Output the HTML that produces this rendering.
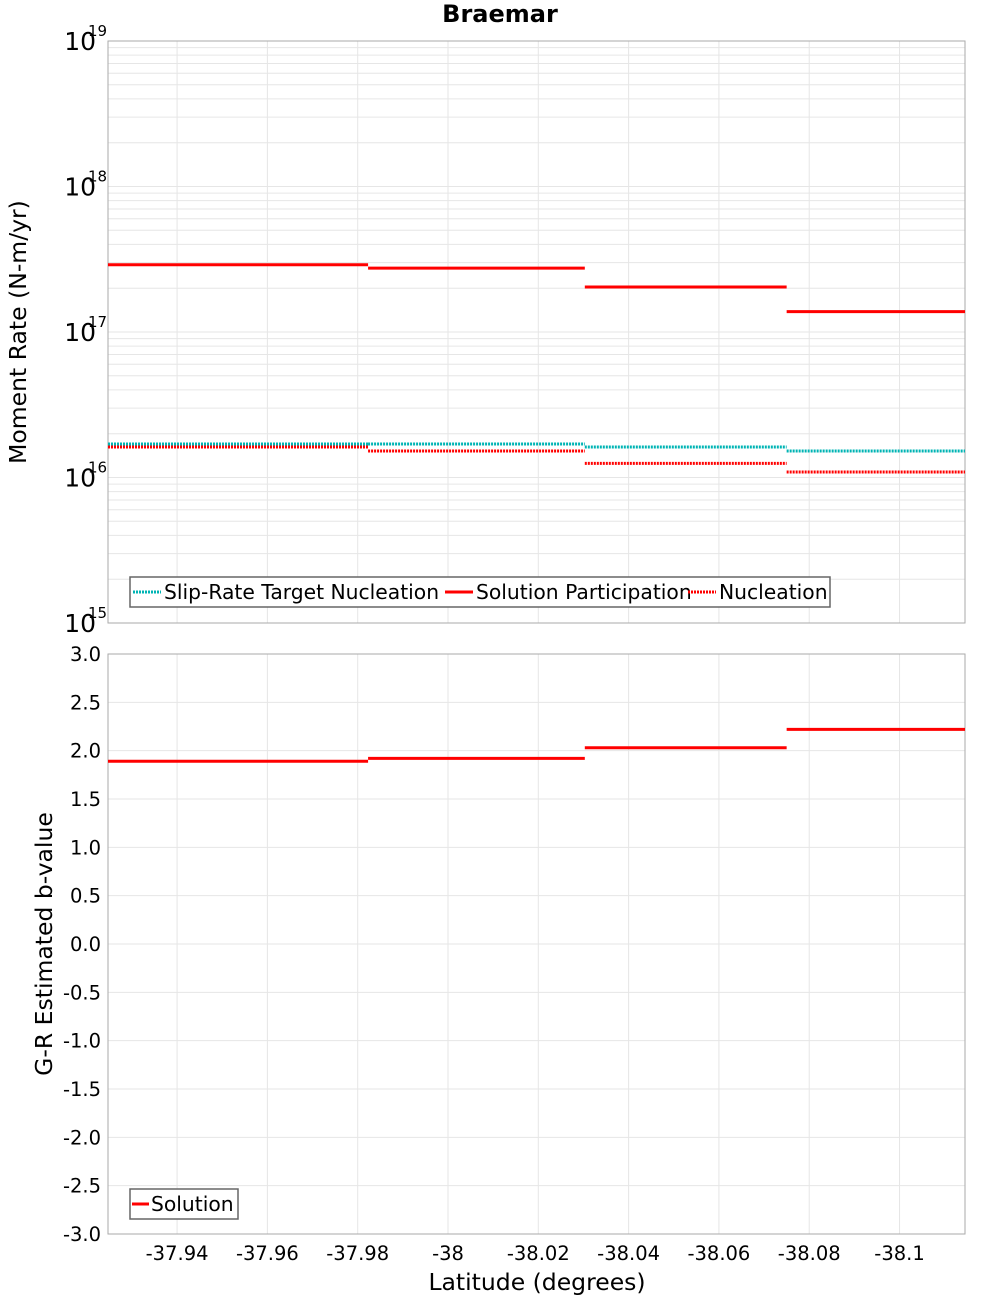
<!DOCTYPE html>
<html><head><meta charset="utf-8"><title>Braemar</title>
<style>body{margin:0;background:#fff}svg{display:block;font-family:"DejaVu Sans","Liberation Sans",sans-serif}</style>
</head><body>
<svg id="chart" width="1000" height="1300" xmlns="http://www.w3.org/2000/svg"></svg>
<script>
const boundaries = [-37.9247, -37.9823, -38.0303, -38.075, -38.1145];
const slipRateTarget = [1.70e16, 1.70e16, 1.62e16, 1.52e16];
const solutionParticipation = [2.90e17, 2.75e17, 2.04e17, 1.38e17];
const nucleation = [1.62e16, 1.52e16, 1.25e16, 1.09e16];
const bValues = [1.89, 1.92, 2.03, 2.22];
const xTicks = [-37.94, -37.96, -37.98, -38, -38.02, -38.04, -38.06, -38.08, -38.1];
const xTickLabels = ["-37.94","-37.96","-37.98","-38","-38.02","-38.04","-38.06","-38.08","-38.1"];
const logDecades = [15, 16, 17, 18, 19];
const bTicks = [-3,-2.5,-2,-1.5,-1,-0.5,0,0.5,1,1.5,2,2.5,3];

const NS = "http://www.w3.org/2000/svg";
const svg = document.getElementById("chart");
const L = 108, R = 965;
const P1T = 41, P1B = 623, P2T = 654, P2B = 1234;
const xS = v => L + (boundaries[0] - v) / (boundaries[0] - boundaries[4]) * (R - L);
const yLog = v => P1B - (Math.log10(v) - 15) / 4 * (P1B - P1T);
const yB = v => P2B - (v + 3) / 6 * (P2B - P2T);

function mk(tag, attrs, parent) {
  const e = document.createElementNS(NS, tag);
  for (const k in attrs) e.setAttribute(k, attrs[k]);
  (parent || svg).appendChild(e);
  return e;
}
function txt(s, attrs, parent) { const t = mk("text", attrs, parent); t.textContent = s; return t; }

const title = txt("Braemar", {x: 500, y: 22, "text-anchor": "middle", "font-size": 24, "font-weight": "bold"});



const g1 = mk("g", {});


for (let d = 15; d < 19; d++) {
  for (let m = 1; m <= 9; m++) {
    const y = yLog(m * Math.pow(10, d));
    mk("line", {x1: L, x2: R, y1: y, y2: y, stroke: "#e6e6e6", "stroke-width": 1}, g1);
  }
}
const g2 = mk("g", {});


bTicks.forEach(v => { const y = yB(v); mk("line", {x1: L, x2: R, y1: y, y2: y, stroke: "#e6e6e6"}, g2); });
xTicks.forEach(v => {
  const x = xS(v);
  mk("line", {x1: x, x2: x, y1: P1T, y2: P1B, stroke: "#e6e6e6"}, g1);
  mk("line", {x1: x, x2: x, y1: P2T, y2: P2B, stroke: "#e6e6e6"}, g2);
});

const f1 = mk("rect", {x: L, y: P1T, width: R - L, height: P1B - P1T, fill: "none", stroke: "#aaa"});


const f2 = mk("rect", {x: L, y: P2T, width: R - L, height: P2B - P2T, fill: "none", stroke: "#aaa"});



logDecades.forEach(d => {
  const y = yLog(Math.pow(10, d));
  const t = txt("10", {x: 96, y: y + 9, "text-anchor": "end", "font-size": 25});
  
  
  const s = txt(String(d), {x: 88, y: y - 5, "font-size": 15});
  
  
});
bTicks.forEach(v => {
  const t = txt(v.toFixed(1), {x: 101, y: yB(v) + 7, "text-anchor": "end", "font-size": 19.5});
  
  
});
xTicks.forEach((v, i) => {
  const t = txt(xTickLabels[i], {x: xS(v), y: 1260, "text-anchor": "middle", "font-size": 19.5});
  
  
});

const yt1 = txt("Moment Rate (N-m/yr)", {x: 0, y: 0, "text-anchor": "middle", "font-size": 23.5, transform: "translate(26,332) rotate(-90)"});


const yt2 = txt("G-R Estimated b-value", {x: 0, y: 0, "text-anchor": "middle", "font-size": 23.5, transform: "translate(52,944) rotate(-90)"});


const xt = txt("Latitude (degrees)", {x: 537, y: 1290, "text-anchor": "middle", "font-size": 23.5});



function stepSeries(vals, yf, color, dash, name) {
  const g = mk("g", {});
  
  
  vals.forEach((v, i) => {
    const x1 = xS(boundaries[i]), x2 = xS(boundaries[i + 1]), y = yf(v);
    const l = mk("line", {x1: x1, x2: x2, y1: y, y2: y, stroke: color, "stroke-width": 3}, g);
    
    
    if (dash) l.setAttribute("stroke-dasharray", "2,1");
  });
  return g;
}
stepSeries(slipRateTarget, yLog, "#00b4b4", true, "slip-rate-target-series");
stepSeries(solutionParticipation, yLog, "#ff0000", false, "solution-participation-series");
stepSeries(nucleation, yLog, "#ff0000", true, "nucleation-series");
stepSeries(bValues, yB, "#ff0000", false, "b-value-solution-series");

const lg1 = mk("g", {});


mk("rect", {x: 130, y: 577, width: 700, height: 30, fill: "#fff", stroke: "#666", "stroke-width": 1.5}, lg1);
const items = [["Slip-Rate Target Nucleation", "#00b4b4", true, 133], ["Solution Participation", "#ff0000", false, 445], ["Nucleation", "#ff0000", true, 688]];
items.forEach(it => {
  const e = mk("g", {}, lg1);
  
  
  const l = mk("line", {x1: it[3], x2: it[3] + 28, y1: 592, y2: 592, stroke: it[1], "stroke-width": 3}, e);
  if (it[2]) l.setAttribute("stroke-dasharray", "2,1");
  txt(it[0], {x: it[3] + 31, y: 599, "font-size": 20.3}, e);
});
const lg2 = mk("g", {});


mk("rect", {x: 130, y: 1189, width: 108, height: 30, fill: "#fff", stroke: "#666", "stroke-width": 1.5}, lg2);
mk("line", {x1: 132, x2: 149, y1: 1204, y2: 1204, stroke: "#ff0000", "stroke-width": 3}, lg2);
txt("Solution", {x: 151, y: 1211, "font-size": 20.3}, lg2);
</script>
</body></html>
